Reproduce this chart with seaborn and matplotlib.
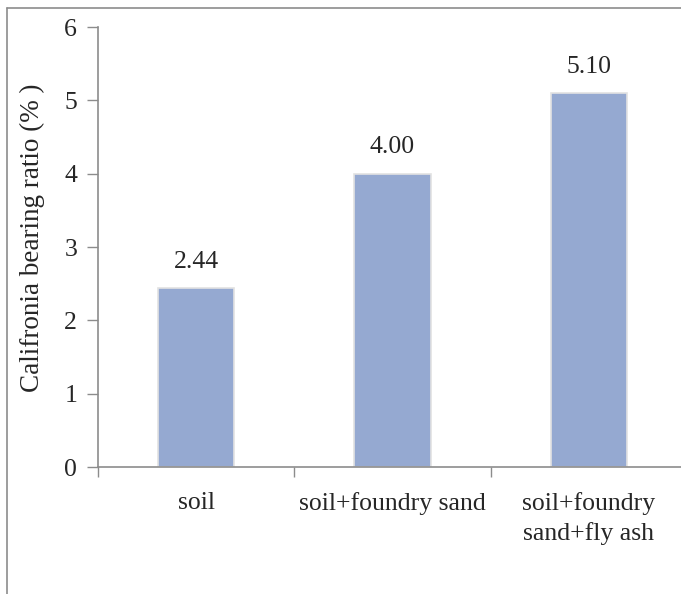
import matplotlib
matplotlib.use("Agg")
import matplotlib.pyplot as plt
from matplotlib.lines import Line2D
import seaborn as sns
import pandas as pd

categories = ["soil", "soil+foundry sand", "soil+foundry\nsand+fly ash"]
values = [2.44, 4.00, 5.10]
value_labels = ["2.44", "4.00", "5.10"]
y_ticks = [0, 1, 2, 3, 4, 5, 6]

sns.set_theme(style="white")
plt.rcParams['font.family'] = ['Liberation Serif', 'DejaVu Serif']

W, H = 681, 594
fig = plt.figure(figsize=(W / 100, H / 100), dpi=100)
left, right, bottom, top = 98, 687, 467, 27
ax = fig.add_axes([left / W, 1 - bottom / H, (right - left) / W, (bottom - top) / H])

df = pd.DataFrame({"cat": categories, "val": values})
sns.barplot(data=df, x="cat", y="val", ax=ax, color="#95A9D1", width=0.39,
            saturation=1, edgecolor="#E2E2E2", linewidth=1.2)

FS = 18.5
ax.set_ylim(0, 6)
ax.set_xlim(-0.5, 2.5)
ax.set_yticks(y_ticks)
ax.set_yticklabels([str(t) for t in y_ticks], fontsize=FS)
ax.set_xticks([-0.5, 0.5, 1.5, 2.5])
ax.set_xticklabels([])
ax.set_xticks([0, 1, 2], minor=True)
ax.set_xticklabels(categories, minor=True, fontsize=FS, linespacing=1.4, va="top")
ax.tick_params(axis="x", which="minor", length=0, pad=18)
ax.tick_params(axis="x", which="major", length=7, width=1, color="#8C8C8C", direction="out", bottom=True)
ax.tick_params(axis="y", length=8, width=1, color="#8C8C8C", direction="out", left=True, pad=7)
ax.set_xlabel("")
ax.set_ylabel("Califronia bearing ratio (% )", fontsize=19.5)
ax.yaxis.set_label_coords(-0.09, 0.52)

for s in ["top", "right"]:
    ax.spines[s].set_visible(False)
for s in ["left", "bottom"]:
    ax.spines[s].set_color("#8C8C8C")
    ax.spines[s].set_linewidth(1.2)

for i, (v, lab) in enumerate(zip(values, value_labels)):
    ax.annotate(lab, (i, v), xytext=(0, 11), textcoords="offset points",
                ha="center", va="bottom", fontsize=FS)

# figure border (left and top)
fig.add_artist(Line2D([6.5 / W, 6.5 / W], [0, 1 - 8 / H], transform=fig.transFigure,
                      color="#8C8C8C", lw=1.2))
fig.add_artist(Line2D([6.5 / W, 1], [1 - 8 / H, 1 - 8 / H], transform=fig.transFigure,
                      color="#8C8C8C", lw=1.2))

fig.savefig("out.png", dpi=100)
